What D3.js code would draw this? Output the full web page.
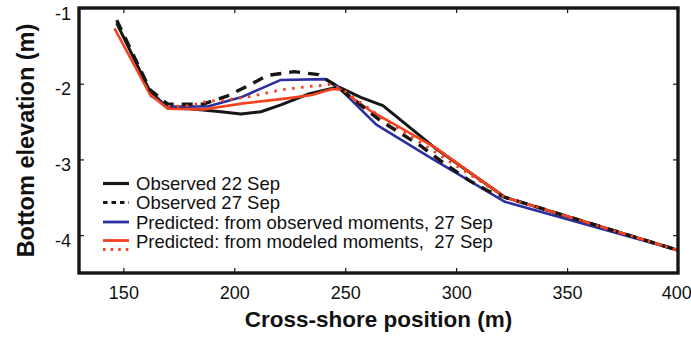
<!DOCTYPE html>
<html>
<head>
<meta charset="utf-8">
<script src="https://cdn.jsdelivr.net/npm/d3@7/dist/d3.min.js"></script>
<style>
  html, body { margin: 0; padding: 0; background: #fff; }
  svg { display: block; }
  text { font-family: "Liberation Sans", Arial, Helvetica, sans-serif; fill: #111; }
</style>
</head>
<body>
<svg id="chart" width="691" height="343"></svg>
<script>
// Beach profiles: cross-shore position (m) vs bottom elevation (m)
const obs22X = [147, 162, 170, 180, 194, 203, 212, 221, 233, 243, 247, 257, 267, 291, 322, 400];
const obs22Y = [-1.2, -2.1, -2.32, -2.33, -2.37, -2.40, -2.37, -2.28, -2.14, -2.07, -2.04, -2.18, -2.29, -2.86, -3.5, -4.2];

const obs27X = [147, 162, 170, 186, 197, 206, 215, 227, 238, 246, 266, 284, 294, 306, 314, 322, 400];
const obs27Y = [-1.16, -2.08, -2.27, -2.27, -2.16, -2.03, -1.89, -1.84, -1.88, -2.03, -2.49, -2.82, -3.04, -3.28, -3.41, -3.5, -4.2];

const predObsX = [162, 170, 188, 203, 221, 241, 246, 264, 288, 322, 400];
const predObsY = [-2.15, -2.3, -2.3, -2.18, -1.95, -1.94, -2.02, -2.54, -2.97, -3.56, -4.2];

const predModX = [146, 162, 170, 186, 204, 222, 235, 244, 248, 262, 276, 291, 322, 400];
const predModY = [-1.27, -2.14, -2.33, -2.34, -2.26, -2.2, -2.15, -2.07, -2.08, -2.37, -2.6, -2.85, -3.5, -4.2];

const predModDotX = [170, 180, 188, 195, 205, 212, 221, 236, 243, 249, 265, 284, 322, 400];
const predModDotY = [-2.3, -2.29, -2.23, -2.22, -2.18, -2.14, -2.08, -2.03, -2.01, -2.08, -2.42, -2.78, -3.5, -4.2];

const xTicks = [150, 200, 250, 300, 350, 400];
const yTicks = [-1, -2, -3, -4];

const legendLabels = [
  "Observed 22 Sep",
  "Observed 27 Sep",
  "Predicted: from observed moments, 27 Sep",
  "Predicted: from modeled moments,  27 Sep"
];

const BLACK = "#161616", BLUE = "#2b2fa0", RED = "#f5431f";

const svg = d3.select("#chart");
const m = { left: 79, right: 13, top: 8, bottom: 70 };
const W = 691 - m.left - m.right, H = 343 - m.top - m.bottom;
const g = svg.append("g").attr("transform", `translate(${m.left},${m.top})`);

const x = d3.scaleLinear().domain([130, 400]).range([0, W]);
const y = d3.scaleLinear().domain([-4.5, -1]).range([H, 0]);

const line = d3.line().x(d => x(d[0])).y(d => y(d[1]));
const pairs = (xs, ys) => xs.map((v, i) => [v, ys[i]]);

// profiles
const series = [
  { xs: obs22X, ys: obs22Y, color: BLACK, dash: null, w: 3 },
  { xs: predObsX, ys: predObsY, color: BLUE, dash: null, w: 2.6 },
  { xs: predModX, ys: predModY, color: RED, dash: null, w: 2.6 },
  { xs: obs27X, ys: obs27Y, color: BLACK, dash: "11,8", w: 3.4 },
  { xs: predModDotX, ys: predModDotY, color: RED, dash: "2.6,6.4", w: 2.8 }
];
series.forEach(s => {
  g.append("path")
    .datum(pairs(s.xs, s.ys))
    .attr("d", line)
    .attr("fill", "none")
    .attr("stroke", s.color)
    .attr("stroke-width", s.w)
    .attr("stroke-dasharray", s.dash)
    .attr("stroke-linejoin", "round");
});

// axes with inward ticks on all four sides
const tickLen = 5;
const axB = g.append("g").attr("transform", `translate(0,${H})`)
  .call(d3.axisBottom(x).tickValues(xTicks).tickSizeInner(-tickLen).tickSizeOuter(0).tickPadding(13));
const axT = g.append("g")
  .call(d3.axisTop(x).tickValues(xTicks).tickSizeInner(-tickLen).tickSizeOuter(0).tickFormat(""));
const axL = g.append("g")
  .call(d3.axisLeft(y).tickValues(yTicks).tickSizeInner(-tickLen).tickSizeOuter(0).tickPadding(8).tickFormat(d3.format("d")));
const axR = g.append("g").attr("transform", `translate(${W},0)`)
  .call(d3.axisRight(y).tickValues(yTicks).tickSizeInner(-tickLen).tickSizeOuter(0).tickFormat(""));
[axB, axT, axL, axR].forEach(a => {
  a.select(".domain").remove();
  a.selectAll(".tick line").attr("stroke", BLACK).attr("stroke-width", 1.2);
  a.selectAll("text").attr("font-size", 18).attr("fill", "#111")
    .style("font-family", "'Liberation Sans', Arial, sans-serif");
});
axL.selectAll("text").text(d => "-" + Math.abs(d)).attr("dy", "0.62em");
axB.selectAll("text").filter(d => d === 400).attr("dx", "-0.1em");

// frame
g.append("rect").attr("x", 0).attr("y", 0).attr("width", W).attr("height", H)
  .attr("fill", "none").attr("stroke", BLACK).attr("stroke-width", 3.4);

// axis titles
svg.append("text")
  .attr("x", m.left + W / 2).attr("y", 327)
  .attr("text-anchor", "middle").attr("font-size", 22.5).attr("font-weight", "bold")
  .text("Cross-shore position (m)");
svg.append("text")
  .attr("transform", `translate(34,${m.top + H / 2}) rotate(-90)`)
  .attr("text-anchor", "middle").attr("font-size", 23.5).attr("font-weight", "bold")
  .text("Bottom elevation (m)");

// legend
const leg = svg.append("g");
const lx0 = 103, lx1 = 129, tx = 136;
const rowsY = [183.5, 202.5, 222, 241.5];
const legSamples = [
  [{ color: BLACK, dash: null, dy: 0, w: 3.2 }],
  [{ color: BLACK, dash: "4.5,4", dy: 0, w: 3.2 }],
  [{ color: BLUE, dash: null, dy: 0, w: 2.8 }],
  [{ color: RED, dash: null, dy: -1, w: 2.8 }, { color: RED, dash: "2.6,5", dy: 8, w: 2.8 }]
];
legendLabels.forEach((lab, i) => {
  legSamples[i].forEach(s => {
    leg.append("line")
      .attr("x1", lx0).attr("x2", lx1)
      .attr("y1", rowsY[i] + s.dy).attr("y2", rowsY[i] + s.dy)
      .attr("stroke", s.color).attr("stroke-width", s.w)
      .attr("stroke-dasharray", s.dash);
  });
  leg.append("text")
    .attr("x", tx).attr("y", rowsY[i]).attr("dy", "0.36em")
    .attr("font-size", 18.5)
    .style("white-space", "pre")
    .attr("xml:space", "preserve")
    .text(lab);
});
</script>
</body>
</html>
